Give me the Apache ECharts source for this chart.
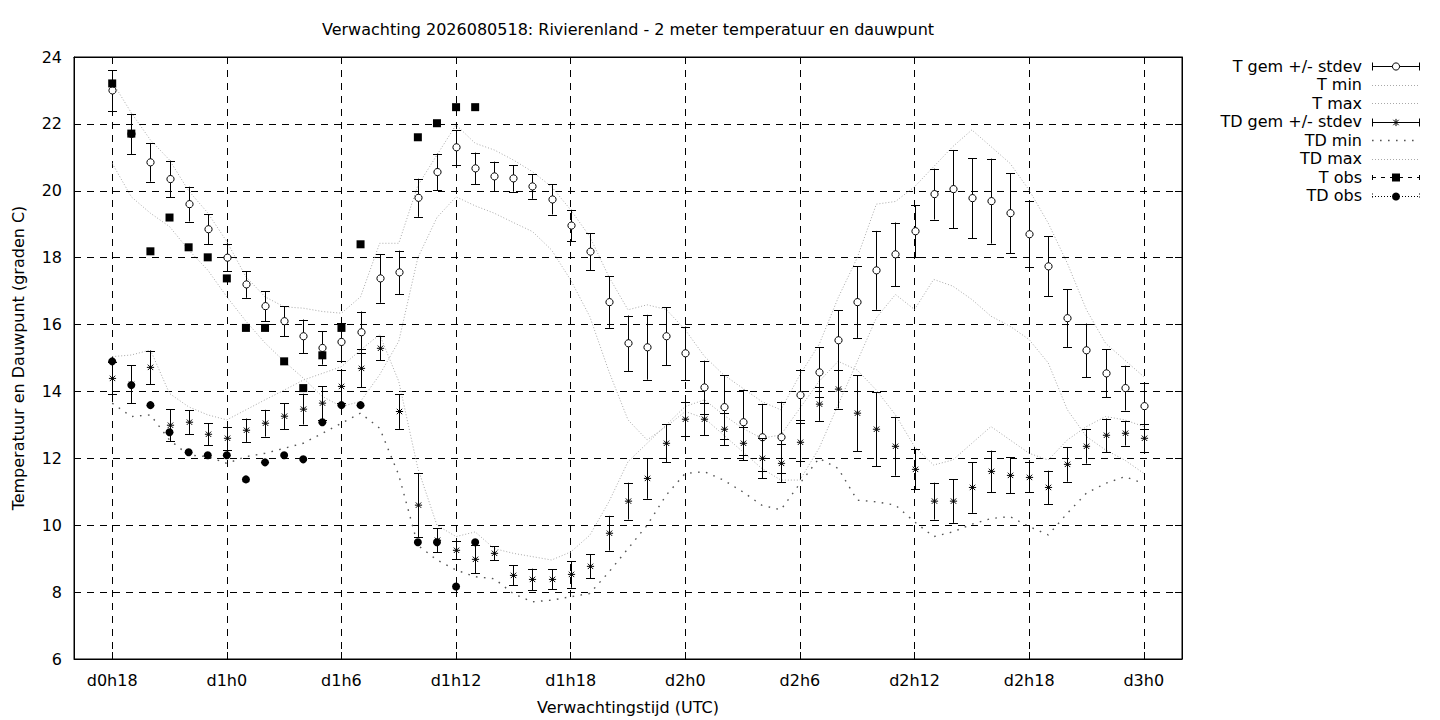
<!DOCTYPE html>
<html>
<head>
<meta charset="utf-8">
<script src="https://cdn.jsdelivr.net/npm/echarts@6/dist/echarts.min.js"></script>
<style>
  html, body { margin: 0; padding: 0; background: #fff; }
  #chart { width: 1440px; height: 720px; }
</style>
</head>
<body>
<div id="chart"></div>
<script>
// hours since d0h0, first and last forecast step
const FIRST_HOUR = 18
const AXIS_FROM = 16
const AXIS_TO = 74

// ensemble temperature, hourly d0h18 .. d3h0
const tGem = [23.0, 21.7, 20.85, 20.35, 19.6, 18.85, 18.0, 17.2, 16.55, 16.1, 15.65, 15.3, 15.48, 15.77,
  17.38, 17.56, 19.79, 20.56, 21.3, 20.67, 20.43, 20.37, 20.13, 19.74, 18.96, 18.18, 16.67, 15.44,
  15.32, 15.65, 15.14, 14.12, 13.53, 13.08, 12.63, 12.63, 13.89, 14.57, 15.53, 16.67, 17.62, 18.1,
  18.79, 19.9, 20.05, 19.78, 19.69, 19.33, 18.7, 17.74, 16.19, 15.23, 14.54, 14.1, 13.56]
const tSd = [0.6, 0.6, 0.58, 0.55, 0.52, 0.45, 0.4, 0.4, 0.45, 0.45, 0.5, 0.5, 0.57, 0.62,
  0.73, 0.65, 0.57, 0.55, 0.52, 0.47, 0.44, 0.4, 0.37, 0.45, 0.47, 0.55, 0.77, 0.83,
  0.97, 0.87, 0.8, 0.8, 0.95, 0.97, 1.0, 1.06, 0.75, 0.75, 0.9, 1.07, 1.18, 0.95,
  0.78, 0.76, 1.17, 1.2, 1.27, 1.2, 0.98, 0.9, 0.86, 0.8, 0.72, 0.67, 0.68]
const tMin = [20.82, 19.82, 19.33, 18.93, 18.23, 17.63, 16.83, 16.1, 15.45, 14.9, 14.4, 13.85, 13.55, 13.7,
  14.5, 15.5, 18.0, 19.2, 19.82, 19.55, 19.33, 19.05, 18.78, 18.23, 17.33, 16.24, 14.6, 13.15,
  12.55, 12.95, 13.4, 13.2, 12.7, 12.2, 11.7, 11.35, 11.35, 12.3, 13.6, 14.9, 16.2, 16.9,
  16.45, 17.35, 17.15, 16.75, 16.25, 15.95, 15.55, 14.85, 13.45, 12.65, 12.25, 11.95, 11.55]
const tMax = [23.26, 22.33, 21.52, 20.92, 20.0, 19.34, 18.48, 17.43, 16.83, 16.53, 16.49, 16.39, 16.34, 16.83,
  18.43, 18.43, 20.16, 21.07, 21.97, 21.42, 21.22, 20.92, 20.57, 20.12, 19.43, 18.63, 17.43, 16.44,
  16.59, 16.45, 15.84, 15.05, 14.5, 14.1, 13.7, 13.45, 14.5, 15.4, 16.8, 18.0, 19.6, 19.68,
  20.12, 20.72, 21.32, 21.82, 21.32, 20.82, 20.02, 19.03, 17.83, 16.44, 15.44, 14.94, 14.44]

// ensemble dew point
const tdGem = [14.39, 14.21, 14.72, 12.99, 13.08, 12.72, 12.6, 12.84, 13.05, 13.26, 13.47, 13.65, 14.15, 14.69,
  15.29, 13.4, 10.6, 9.55, 9.25, 8.98, 9.16, 8.5, 8.38, 8.38, 8.53, 8.77, 9.76, 10.72,
  11.4, 12.45, 13.17, 13.17, 12.87, 12.45, 12.0, 11.85, 12.48, 13.62, 14.07, 13.35, 12.87, 12.36,
  11.67, 10.72, 10.72, 11.13, 11.61, 11.49, 11.43, 11.13, 11.82, 12.36, 12.69, 12.75, 12.6]
const tdSd = [0.48, 0.57, 0.5, 0.48, 0.36, 0.33, 0.35, 0.35, 0.4, 0.39, 0.46, 0.5, 0.5, 0.57,
  0.36, 0.52, 0.96, 0.36, 0.27, 0.42, 0.21, 0.3, 0.32, 0.3, 0.4, 0.36, 0.52, 0.55,
  0.61, 0.57, 0.51, 0.48, 0.48, 0.5, 0.6, 0.57, 0.57, 0.5, 0.58, 1.13, 1.1, 0.88,
  0.6, 0.55, 0.65, 0.76, 0.62, 0.54, 0.45, 0.5, 0.52, 0.52, 0.5, 0.37, 0.42]
const tdMin = [13.65, 13.25, 13.3, 12.55, 12.1, 12.05, 11.85, 12.05, 12.15, 12.3, 12.45, 12.75, 13.05, 13.35,
  12.9, 11.5, 9.4, 8.96, 8.66, 8.46, 8.4, 7.95, 7.71, 7.76, 7.86, 7.96, 8.6, 9.3,
  10.0, 10.9, 11.55, 11.6, 11.35, 11.0, 10.6, 10.46, 11.25, 12.0, 11.7, 10.75, 10.7, 10.6,
  10.1, 9.66, 9.8, 10.03, 10.2, 10.26, 9.96, 9.71, 10.36, 10.96, 11.25, 11.45, 11.25]
const tdMax = [15.04, 15.09, 15.24, 13.94, 13.54, 13.3, 13.15, 13.45, 13.75, 14.04, 14.34, 14.54, 14.74, 15.24,
  15.7, 14.3, 11.7, 10.0, 9.66, 9.8, 9.3, 9.16, 9.06, 8.96, 9.2, 9.7, 10.7, 11.9,
  12.45, 13.0, 13.55, 13.75, 13.3, 12.9, 12.6, 12.7, 13.5, 14.3, 14.9, 14.64, 14.04, 13.3,
  12.35, 11.8, 11.95, 12.45, 12.95, 12.55, 12.15, 11.95, 12.55, 12.95, 13.25, 13.15, 12.95]

// observations d0h18 .. d1h13
const tObs = [23.21, 21.71, 18.19, 19.2, 18.31, 18.01, 17.38, 15.9, 15.9, 14.9, 14.1, 15.08, 15.9, 18.4,
  null, null, 21.6, 22.02, 22.5, 22.5]
const tdObs = [14.9, 14.19, 13.59, 12.78, 12.18, 12.09, 12.09, 11.37, 11.88, 12.09, 11.97, 13.08, 13.59, 13.59,
  null, null, 9.49, 9.49, 8.17, 9.49]

const FONT = '16px "DejaVu Sans"'
const LIGHT = '#a9a9a9'
const DARK = '#555555'

const categories = []
for (let h = AXIS_FROM; h <= AXIS_TO; h++) {
  categories.push('d' + Math.floor(h / 24) + 'h' + (h % 24))
}
const offset = FIRST_HOUR - AXIS_FROM
const onSixHours = (idx) => idx >= offset && (idx - offset) % 6 === 0

const idx = (i) => i + offset
const pairs = (arr) => arr.map((v, i) => [idx(i), v]).filter(p => p[1] !== null)
const triples = (mean, sd) => mean.map((v, i) => [idx(i), v, sd[i]])

const px = (v) => Math.round(v) + 0.5

function circleMarker (x, y) {
  return [{ type: 'circle', shape: { cx: x, cy: y, r: 3.6 }, style: { fill: '#fff', stroke: '#000', lineWidth: 1 } }]
}

function starMarker (x, y) {
  const s = { stroke: '#000', lineWidth: 1 }
  const r = 3.6
  const d = 2.7
  return [
    { type: 'line', shape: { x1: x - r, y1: y, x2: x + r, y2: y }, style: s },
    { type: 'line', shape: { x1: x, y1: y - r, x2: x, y2: y + r }, style: s },
    { type: 'line', shape: { x1: x - d, y1: y - d, x2: x + d, y2: y + d }, style: s },
    { type: 'line', shape: { x1: x - d, y1: y + d, x2: x + d, y2: y - d }, style: s }
  ]
}

function errorBars (marker) {
  return function (params, api) {
    const x = api.value(0)
    const m = api.value(1)
    const s = api.value(2)
    const c = api.coord([x, m])
    const hi = api.coord([x, m + s])
    const lo = api.coord([x, m - s])
    const cx = px(c[0])
    const st = { stroke: '#000', lineWidth: 1 }
    const kids = [
      { type: 'line', shape: { x1: cx, y1: hi[1], x2: cx, y2: lo[1] }, style: st },
      { type: 'line', shape: { x1: cx - 4.5, y1: px(hi[1]), x2: cx + 4.5, y2: px(hi[1]) }, style: st },
      { type: 'line', shape: { x1: cx - 4.5, y1: px(lo[1]), x2: cx + 4.5, y2: px(lo[1]) }, style: st }
    ]
    return { type: 'group', children: kids.concat(marker(cx, c[1])) }
  }
}

function dotted (name, data, color, dash, width) {
  return {
    name: name,
    type: 'line',
    data: pairs(data),
    symbol: 'none',
    silent: true,
    lineStyle: { color: color, width: width, type: dash, opacity: 1 }
  }
}

// legend drawn like gnuplot's key: text right aligned, sample to the right
const keyNames = ['T gem +/- stdev', 'T min', 'T max', 'TD gem +/- stdev', 'TD min', 'TD max', 'T obs', 'TD obs']
const keyTop = 66
const keyStep = 18.5
const keyText = 1362
const keyX1 = 1372
const keyX2 = 1420
const keyMid = (keyX1 + keyX2) / 2

function keySample (i, y) {
  const yy = px(y)
  const black = { stroke: '#000', lineWidth: 1 }
  const caps = (h, style) => [
    { type: 'line', shape: { x1: keyX1 + 0.5, y1: yy - h, x2: keyX1 + 0.5, y2: yy + h }, style: style },
    { type: 'line', shape: { x1: keyX2 - 0.5, y1: yy - h, x2: keyX2 - 0.5, y2: yy + h }, style: style }
  ]
  const hline = (style) => ({ type: 'line', shape: { x1: keyX1, y1: yy, x2: keyX2, y2: yy }, style: style })
  switch (i) {
    case 0: return [hline(black)].concat(caps(4, black), circleMarker(keyMid, yy))
    case 3: return [hline(black)].concat(caps(4, black), starMarker(keyMid, yy))
    case 4: return [hline({ stroke: DARK, lineWidth: 1.4, lineDash: [1.6, 6.4] })]
    case 6: return [hline({ stroke: '#000', lineWidth: 1, lineDash: [4, 5] })].concat(caps(2.5, black),
      [{ type: 'rect', shape: { x: keyMid - 4, y: yy - 4, width: 8, height: 8 }, style: { fill: '#000' } }])
    case 7: return [hline({ stroke: '#000', lineWidth: 1, lineDash: [1, 2] })].concat(
      caps(3, { stroke: '#000', lineWidth: 1, lineDash: [1, 2] }),
      [{ type: 'circle', shape: { cx: keyMid, cy: yy, r: 4 }, style: { fill: '#000' } }])
    default: return [hline({ stroke: LIGHT, lineWidth: 1, lineDash: [1, 2] })]
  }
}

const keyGraphics = []
keyNames.forEach((name, i) => {
  const y = keyTop + i * keyStep
  keyGraphics.push({ type: 'text', x: keyText, y: y, style: { text: name, font: FONT, fill: '#000', align: 'right', verticalAlign: 'middle' } })
  keySample(i, y).forEach(g => keyGraphics.push(g))
})

const chart = echarts.init(document.getElementById('chart'), null, { renderer: 'svg' })

const tickIn = { show: true, inside: true, length: 7, interval: onSixHours, lineStyle: { color: '#000' } }
const gridLine = { show: true, lineStyle: { color: '#000', width: 1, type: [7, 6] } }

chart.setOption({
  animation: false,
  backgroundColor: '#fff',
  textStyle: { fontFamily: 'DejaVu Sans' },
  grid: { left: 74, top: 57, width: 1108, height: 602, show: true, borderColor: '#000', borderWidth: 1, backgroundColor: 'transparent' },
  xAxis: [{
    type: 'category',
    data: categories,
    boundaryGap: false,
    axisLine: { show: true, lineStyle: { color: '#000' } },
    axisTick: tickIn,
    axisLabel: { interval: onSixHours, color: '#000', fontSize: 16, fontFamily: 'DejaVu Sans', margin: 13 },
    splitLine: Object.assign({ interval: onSixHours }, gridLine)
  }, {
    type: 'category',
    data: categories,
    boundaryGap: false,
    position: 'top',
    axisLine: { show: true, lineStyle: { color: '#000' } },
    axisTick: tickIn,
    axisLabel: { show: false },
    splitLine: { show: false }
  }],
  yAxis: [{
    type: 'value',
    min: 6,
    max: 24,
    interval: 2,
    axisLine: { show: true, lineStyle: { color: '#000' } },
    axisTick: { show: true, inside: true, length: 7, lineStyle: { color: '#000' } },
    axisLabel: { color: '#000', fontSize: 16, fontFamily: 'DejaVu Sans', margin: 12 },
    splitLine: gridLine
  }, {
    type: 'value',
    min: 6,
    max: 24,
    interval: 2,
    position: 'right',
    axisLine: { show: true, lineStyle: { color: '#000' } },
    axisTick: { show: true, inside: true, length: 7, lineStyle: { color: '#000' } },
    axisLabel: { show: false },
    splitLine: { show: false }
  }],
  graphic: [
    { type: 'text', x: 628, y: 29, style: { text: 'Verwachting 2026080518: Rivierenland - 2 meter temperatuur en dauwpunt', font: FONT, fill: '#000', align: 'center', verticalAlign: 'middle' } },
    { type: 'text', x: 628, y: 707, style: { text: 'Verwachtingstijd (UTC)', font: FONT, fill: '#000', align: 'center', verticalAlign: 'middle' } },
    { type: 'text', x: 18, y: 358, rotation: Math.PI / 2, style: { text: 'Temperatuur en Dauwpunt (graden C)', font: FONT, fill: '#000', align: 'center', verticalAlign: 'middle' } }
  ].concat(keyGraphics),
  series: [
    {
      name: 'T gem +/- stdev',
      type: 'custom',
      data: triples(tGem, tSd),
      encode: { x: 0, y: 1 },
      renderItem: errorBars(circleMarker),
      silent: true,
      z: 4
    },
    dotted('T min', tMin, LIGHT, [1, 2], 1),
    dotted('T max', tMax, LIGHT, [1, 2], 1),
    {
      name: 'TD gem +/- stdev',
      type: 'custom',
      data: triples(tdGem, tdSd),
      encode: { x: 0, y: 1 },
      renderItem: errorBars(starMarker),
      silent: true,
      z: 4
    },
    dotted('TD min', tdMin, DARK, [1.6, 6.4], 1.4),
    dotted('TD max', tdMax, LIGHT, [1, 2], 1),
    {
      name: 'T obs',
      type: 'scatter',
      data: pairs(tObs),
      symbol: 'rect',
      symbolSize: 8,
      itemStyle: { color: '#000', opacity: 1 },
      silent: true,
      z: 5
    },
    {
      name: 'TD obs',
      type: 'scatter',
      data: pairs(tdObs),
      symbol: 'circle',
      symbolSize: 8,
      itemStyle: { color: '#000', opacity: 1 },
      silent: true,
      z: 5
    }
  ]
})
</script>
</body>
</html>
